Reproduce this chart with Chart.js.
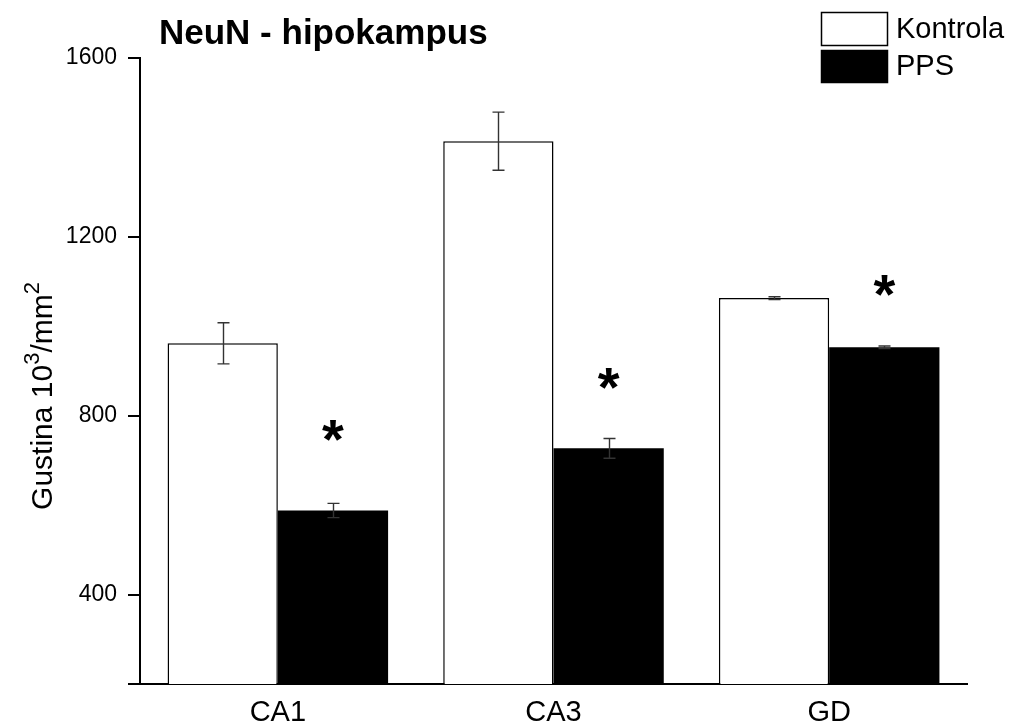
<!DOCTYPE html>
<html>
<head>
<meta charset="utf-8">
<script src="https://cdn.jsdelivr.net/npm/chart.js@4.4.1/dist/chart.umd.min.js"></script>
<style>
  html, body { margin: 0; padding: 0; background: #fff; }
  #wrap { width: 1015px; height: 726px; }
</style>
</head>
<body>
<div id="wrap"><canvas id="neunChart" width="1015" height="726"></canvas></div>
<script>
// values
const categories = ["CA1", "CA3", "GD"];
const kontrolaValues = [962, 1414, 1063];
const kontrolaErrors = [46, 65, 3];
const ppsValues = [588, 727, 953];
const ppsErrors = [16, 22, 3];
// height (in y units) of the significance stars above the PPS bars
const starLevels = [775, 890, 1100];
// y ticks: 200 is the axis start, it gets a tick mark but no label
const yTickValues = [200, 400, 800, 1200, 1600];

const FONT = "'Liberation Sans', Arial, Helvetica, sans-serif";

// error bars, drawn on top of the bars using the chart's own scales
const errorBarPlugin = {
    id: "errorBars",
    afterDatasetsDraw(chart) {
        const ctx = chart.ctx;
        const yScale = chart.scales.y;
        const errs = [kontrolaErrors, ppsErrors];
        ctx.save();
        ctx.strokeStyle = "#333";
        ctx.lineWidth = 1.4;
        chart.data.datasets.forEach((ds, i) => {
            const meta = chart.getDatasetMeta(i);
            meta.data.forEach((bar, j) => {
                const v = ds.data[j];
                const e = errs[i][j];
                const x = Math.round(bar.x) + 0.5;
                const yTop = yScale.getPixelForValue(v + e);
                const yBot = yScale.getPixelForValue(v - e);
                ctx.beginPath();
                ctx.moveTo(x, yTop); ctx.lineTo(x, yBot);
                ctx.moveTo(x - 6, yTop); ctx.lineTo(x + 6, yTop);
                ctx.moveTo(x - 6, yBot); ctx.lineTo(x + 6, yBot);
                ctx.stroke();
            });
        });
        ctx.restore();
    }
};

// asterisks over the PPS bars
const starPlugin = {
    id: "stars",
    afterDatasetsDraw(chart) {
        const ctx = chart.ctx;
        const yScale = chart.scales.y;
        const meta = chart.getDatasetMeta(1);
        ctx.save();
        ctx.fillStyle = "#000";
        ctx.font = "bold 56px " + FONT;
        ctx.textAlign = "center";
        ctx.textBaseline = "alphabetic";
        meta.data.forEach((bar, j) => {
            const y = yScale.getPixelForValue(starLevels[j]);
            ctx.fillText("*", bar.x, y + 31);
        });
        ctx.restore();
    }
};

// title, legend and y axis title with real superscripts
const labelsPlugin = {
    id: "labels",
    afterDraw(chart) {
        const ctx = chart.ctx;
        ctx.save();
        ctx.fillStyle = "#000";

        // title
        ctx.font = "bold 35px " + FONT;
        ctx.textAlign = "left";
        ctx.textBaseline = "alphabetic";
        ctx.fillText("NeuN - hipokampus", 159, 44);

        // legend boxes
        const boxX = 821, boxW = 66;
        const rows = [{ y: 12, h: 33 }, { y: 50, h: 32 }];
        chart.data.datasets.forEach((ds, i) => {
            const r = rows[i];
            ctx.fillStyle = ds.backgroundColor;
            ctx.fillRect(boxX, r.y, boxW, r.h);
            ctx.strokeStyle = "#000";
            ctx.lineWidth = 1.5;
            ctx.strokeRect(boxX + 0.5, r.y + 0.5, boxW, r.h);
            ctx.fillStyle = "#000";
            ctx.font = "29px " + FONT;
            ctx.textBaseline = "middle";
            ctx.fillText(ds.label, 896, r.y + r.h / 2 + 1);
        });

        // y axis title, rotated
        const base = "30px " + FONT;
        const sup = "22px " + FONT;
        const parts = [
            { t: "Gustina 10", f: base, dy: 0 },
            { t: "3", f: sup, dy: -13 },
            { t: "/mm", f: base, dy: 0 },
            { t: "2", f: sup, dy: -13 }
        ];
        let total = 0;
        parts.forEach(p => { ctx.font = p.f; p.w = ctx.measureText(p.t).width; total += p.w; });
        ctx.translate(52, 396);
        ctx.rotate(-Math.PI / 2);
        ctx.textBaseline = "alphabetic";
        ctx.textAlign = "left";
        let x = -total / 2;
        parts.forEach(p => {
            ctx.font = p.f;
            ctx.fillText(p.t, x, p.dy);
            x += p.w;
        });
        ctx.restore();
    }
};

const config = {
    type: "bar",
    data: {
        labels: categories,
        datasets: [
            {
                label: "Kontrola",
                data: kontrolaValues,
                backgroundColor: "#ffffff",
                borderColor: "#000000",
                borderWidth: 1.5,
                borderSkipped: "bottom",
                categoryPercentage: 0.8,
                barPercentage: 1.0
            },
            {
                label: "PPS",
                data: ppsValues,
                backgroundColor: "#000000",
                borderColor: "#000000",
                borderWidth: 0,
                categoryPercentage: 0.8,
                barPercentage: 1.0
            }
        ]
    },
    options: {
        responsive: false,
        animation: false,
        layout: { padding: { left: 0, top: 58, right: 48, bottom: 0 } },
        plugins: {
            legend: { display: false },
            title: { display: false },
            tooltip: { enabled: false }
        },
        scales: {
            x: {
                grid: { display: false, drawTicks: false },
                border: { display: true, color: "#000", width: 2 },
                ticks: {
                    color: "#000",
                    padding: 12,
                    font: { family: FONT, size: 29 }
                },
                afterFit(scale) { scale.height = 42; }
            },
            y: {
                min: 200,
                max: 1600,
                afterBuildTicks(scale) {
                    scale.ticks = yTickValues.map(v => ({ value: v }));
                },
                grid: {
                    drawOnChartArea: false,
                    drawTicks: true,
                    tickLength: 12,
                    color: "#000",
                    lineWidth: 2
                },
                border: { display: true, color: "#000", width: 2 },
                ticks: {
                    color: "#000",
                    padding: 11,
                    font: { family: FONT, size: 23 },
                    callback: function (value) {
                        return value === 200 ? "" : value;
                    }
                },
                afterFit(scale) { scale.width = 140; }
            }
        }
    },
    plugins: [errorBarPlugin, starPlugin, labelsPlugin]
};

new Chart(document.getElementById("neunChart").getContext("2d"), config);
</script>
</body>
</html>
